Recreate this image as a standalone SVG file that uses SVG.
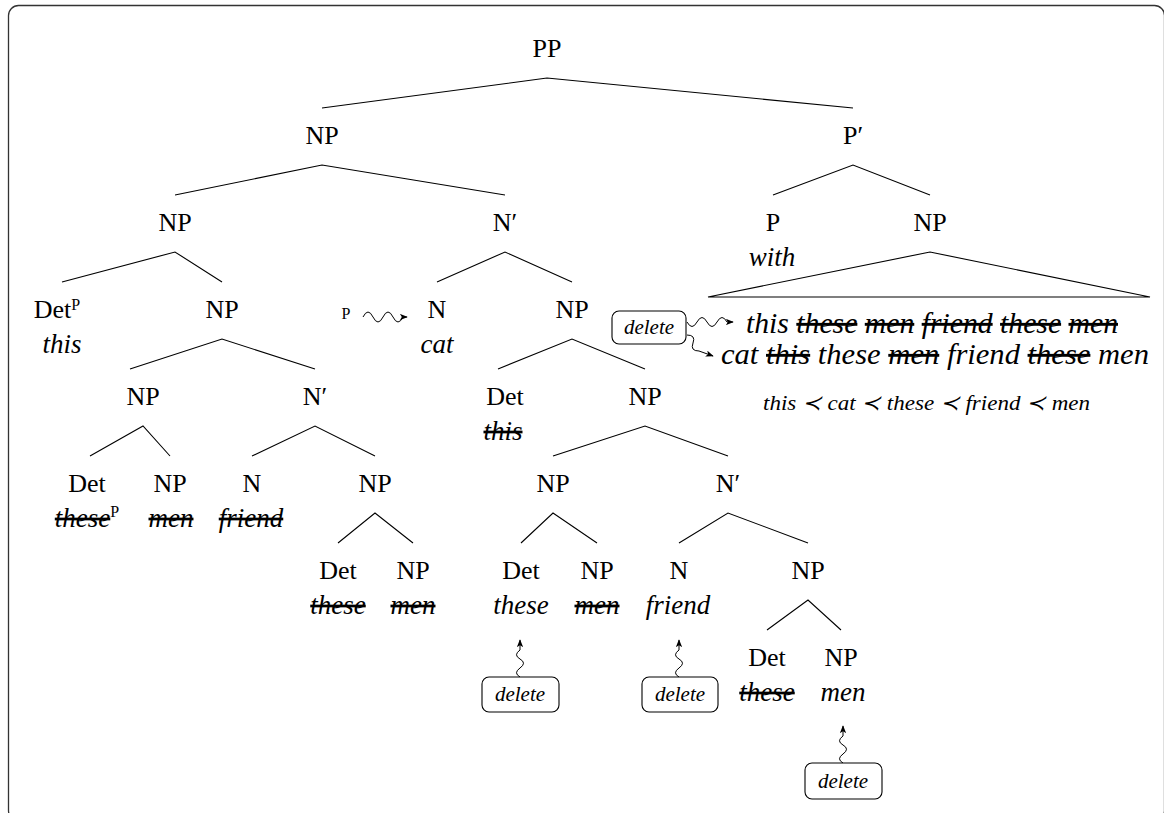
<svg xmlns="http://www.w3.org/2000/svg" width="1164" height="813" viewBox="0 0 1164 813">
  <style>
    .lbl { font-family: "Liberation Serif", "DejaVu Serif", serif; font-size: 26px; fill: #000; text-anchor: middle; }
    .w { font-family: "Liberation Serif", "DejaVu Serif", serif; font-style: italic; font-size: 27px; fill: #000; text-anchor: middle; }
    .sup { font-family: "Liberation Serif", "DejaVu Serif", serif; font-size: 16px; fill: #000; }
    .del { text-decoration: line-through; text-decoration-thickness: 1.2px; }
    .box { fill: #fff; stroke: #000; stroke-width: 1.1; }
    .boxt { font-family: "Liberation Serif", "DejaVu Serif", serif; font-style: italic; font-size: 21px; fill: #000; text-anchor: middle; }
    .edge { fill: none; stroke: #000; stroke-width: 1.1; }
    .snake { fill: none; stroke: #000; stroke-width: 1; }
    .big { font-family: "Liberation Serif", "DejaVu Serif", serif; font-style: italic; font-size: 29px; fill: #000; }
    .ord { font-family: "Liberation Serif", "DejaVu Serif", serif; font-style: italic; font-size: 21px; fill: #000; }
  </style>
  <defs>
    <marker id="tip" viewBox="0 0 10 8" refX="9" refY="4" markerWidth="8" markerHeight="6.4" markerUnits="userSpaceOnUse" orient="auto">
      <path d="M0,0 L10,4 L0,8 L2.5,4 Z" fill="#000"/>
    </marker>
  </defs>

  <!-- outer frame -->
  <rect x="8.5" y="5.5" width="1156" height="815" rx="10" ry="10" fill="none" stroke="#333" stroke-width="1.3"/>

  <!-- tree edges -->
  <g id="edges">
    <path class="edge" d="M322,108 L547,78 L853,108"/>
    <path class="edge" d="M175,195 L322,165 L505,195"/>
    <path class="edge" d="M773,195 L853,165 L930,195"/>
    <path class="edge" d="M62,282 L175,252 L222,282"/>
    <path class="edge" d="M437,282 L505,252 L572,282"/>
    <path class="edge" d="M708,297 L930,252 L1150,297 Z"/>
    <path class="edge" d="M130,369 L222,339 L315,369"/>
    <path class="edge" d="M498,369 L572,339 L645,369"/>
    <path class="edge" d="M90,456 L143,426 L170,456"/>
    <path class="edge" d="M252,456 L315,426 L375,456"/>
    <path class="edge" d="M553,456 L645,426 L728,456"/>
    <path class="edge" d="M338,543 L375,513 L413,543"/>
    <path class="edge" d="M521,543 L553,513 L597,543"/>
    <path class="edge" d="M679,543 L728,513 L808,543"/>
    <path class="edge" d="M767,630 L808,600 L841,630"/>
    <!-- wavy pointers -->
    <path class="snake" marker-end="url(#tip)" d="M363,317 q5,-10 10,0 t10,0 t10,0 t10,0 l4,0"/>
    <path class="snake" marker-end="url(#tip)" d="M520,677 q-7,-4 0,-9 t0,-9 t0,-9 l0,-10"/>
    <path class="snake" marker-end="url(#tip)" d="M679,677 q-7,-4 0,-9 t0,-9 t0,-9 l0,-10"/>
    <path class="snake" marker-end="url(#tip)" d="M843,763 q-7,-4 0,-9 t0,-9 t0,-9 l0,-10"/>
    <path class="snake" marker-end="url(#tip)" d="M687,322 q5,9 10,0 t10,0 t10,0 t10,0 l6,0"/>
    <path class="snake" marker-end="url(#tip)" d="M687,335 q9,0 6,8 t6,8 l14,5"/>
  </g>

  <!-- nodes -->
  <g id="n-pp"><text class="lbl" x="547" y="57">PP</text></g>
  <g id="n-np1"><text class="lbl" x="322" y="144">NP</text></g>
  <g id="n-pbar"><text class="lbl" x="853" y="144">P′</text></g>

  <g id="n-np2"><text class="lbl" x="175" y="231">NP</text></g>
  <g id="n-nbar1"><text class="lbl" x="505" y="231">N′</text></g>
  <g id="n-p"><text class="lbl" x="773" y="231">P</text><text class="w" x="772" y="266">with</text></g>
  <g id="n-np3"><text class="lbl" x="930" y="231">NP</text></g>

  <g id="n-detp">
    <text class="lbl" x="57" y="318">Det<tspan class="sup" dy="-8">P</tspan></text>
    <text class="w" x="62" y="353">this</text>
  </g>
  <g id="n-np4"><text class="lbl" x="222" y="318">NP</text></g>
  <g id="n-p-small"><text class="sup" x="346" y="319" text-anchor="middle">P</text></g>
  <g id="n-n-cat"><text class="lbl" x="437" y="318">N</text><text class="w" x="437" y="353">cat</text></g>
  <g id="n-np5"><text class="lbl" x="572" y="318">NP</text></g>

  <g id="n-del-r">
    <rect class="box" x="612" y="311" width="74" height="33" rx="7"/>
    <text class="boxt" x="649" y="334">delete</text>
  </g>
  <g id="n-line-a">
    <text class="big" x="746" y="333" textLength="372" lengthAdjust="spacingAndGlyphs">this <tspan class="del">these</tspan> <tspan class="del">men</tspan> <tspan class="del">friend</tspan> <tspan class="del">these</tspan> <tspan class="del">men</tspan></text>
  </g>
  <g id="n-line-b">
    <text class="big" x="721" y="364" textLength="428" lengthAdjust="spacingAndGlyphs">cat <tspan class="del">this</tspan> these <tspan class="del">men</tspan> friend <tspan class="del">these</tspan> men</text>
  </g>
  <g id="n-order">
    <text class="ord" x="763" y="410" textLength="327" lengthAdjust="spacingAndGlyphs">this ≺ cat ≺ these ≺ friend ≺ men</text>
  </g>

  <g id="n-np6"><text class="lbl" x="143" y="405">NP</text></g>
  <g id="n-nbar2"><text class="lbl" x="315" y="405">N′</text></g>
  <g id="n-det-this"><text class="lbl" x="505" y="405">Det</text><text class="w del" x="503" y="440">this</text></g>
  <g id="n-np7"><text class="lbl" x="645" y="405">NP</text></g>

  <g id="n-det-these1">
    <text class="lbl" x="87" y="492">Det</text>
    <text class="w" x="87" y="527"><tspan class="del">these</tspan><tspan class="sup" dy="-10" font-style="normal">P</tspan></text>
  </g>
  <g id="n-np-men1"><text class="lbl" x="170" y="492">NP</text><text class="w del" x="171" y="527">men</text></g>
  <g id="n-n-friend1"><text class="lbl" x="252" y="492">N</text><text class="w del" x="251" y="527">friend</text></g>
  <g id="n-np8"><text class="lbl" x="375" y="492">NP</text></g>
  <g id="n-np9"><text class="lbl" x="553" y="492">NP</text></g>
  <g id="n-nbar3"><text class="lbl" x="728" y="492">N′</text></g>

  <g id="n-det-these2"><text class="lbl" x="338" y="579">Det</text><text class="w del" x="338" y="614">these</text></g>
  <g id="n-np-men2"><text class="lbl" x="413" y="579">NP</text><text class="w del" x="413" y="614">men</text></g>
  <g id="n-det-these3"><text class="lbl" x="521" y="579">Det</text><text class="w" x="521" y="614">these</text></g>
  <g id="n-np-men3"><text class="lbl" x="597" y="579">NP</text><text class="w del" x="597" y="614">men</text></g>
  <g id="n-n-friend2"><text class="lbl" x="679" y="579">N</text><text class="w" x="678" y="614">friend</text></g>
  <g id="n-np10"><text class="lbl" x="808" y="579">NP</text></g>

  <g id="n-det-these4"><text class="lbl" x="767" y="666">Det</text><text class="w del" x="767" y="701">these</text></g>
  <g id="n-np-men4"><text class="lbl" x="841" y="666">NP</text><text class="w" x="843" y="701">men</text></g>

  <g id="n-del-1"><rect class="box" x="482" y="677" width="77" height="35" rx="7"/><text class="boxt" x="520" y="701">delete</text></g>
  <g id="n-del-2"><rect class="box" x="642" y="677" width="76" height="35" rx="7"/><text class="boxt" x="680" y="701">delete</text></g>
  <g id="n-del-3"><rect class="box" x="805" y="763" width="77" height="36" rx="7"/><text class="boxt" x="843" y="788">delete</text></g>
</svg>
